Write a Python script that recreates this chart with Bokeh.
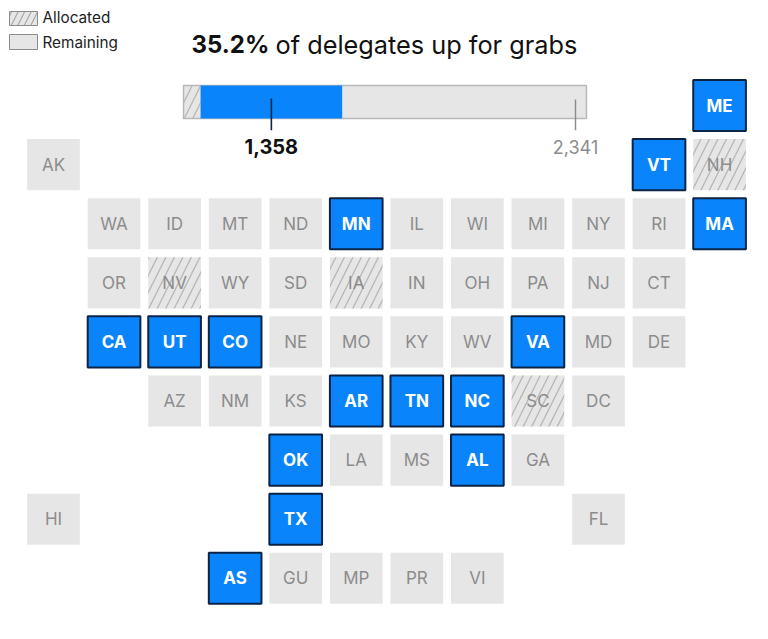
from bokeh.core.properties import value
from bokeh.embed import file_html
from bokeh.models import BoxAnnotation, ColumnDataSource, Label, Range1d
from bokeh.plotting import figure
from bokeh.resources import INLINE

FONT = "Inter"
BLUE = "#0a84fb"
NAVY = "#0b2345"
GREY = "#e6e6e6"
TEXT_GREY = "#8c8c8c"
HATCH = "#b8b8b8"

# tile map, one list per status: name, column, row
allocated_states = ["NH", "NV", "IA", "SC"]
allocated_cols = [11, 2, 5, 8]
allocated_rows = [1, 3, 3, 5]

voting_states = ["ME", "VT", "MN", "MA", "CA", "UT", "CO", "VA", "AR", "TN", "NC", "OK", "AL", "TX", "AS"]
voting_cols = [11, 10, 5, 11, 1, 2, 3, 8, 5, 6, 7, 4, 7, 4, 3]
voting_rows = [0, 1, 2, 2, 4, 4, 4, 4, 5, 5, 5, 6, 6, 7, 8]

remaining_states = ["AK", "WA", "ID", "MT", "ND", "IL", "WI", "MI", "NY", "RI",
                    "OR", "WY", "SD", "IN", "OH", "PA", "NJ", "CT",
                    "NE", "MO", "KY", "WV", "MD", "DE",
                    "AZ", "NM", "KS", "DC", "LA", "MS", "GA", "HI", "FL",
                    "GU", "MP", "PR", "VI"]
remaining_cols = [0, 1, 2, 3, 4, 6, 7, 8, 9, 10,
                  1, 3, 4, 6, 7, 8, 9, 10,
                  4, 5, 6, 7, 9, 10,
                  2, 3, 4, 9, 5, 6, 8, 0, 9,
                  4, 5, 6, 7]
remaining_rows = [1, 2, 2, 2, 2, 2, 2, 2, 2, 2,
                  3, 3, 3, 3, 3, 3, 3, 3,
                  4, 4, 4, 4, 4, 4,
                  5, 5, 5, 5, 6, 6, 6, 7, 7,
                  8, 8, 8, 8]

# delegates bar
bar_allocated = 163
bar_voting = 1358
bar_remaining = 2341
voting_label = "1,358"
remaining_label = "2,341"
voting_tick = 842
remaining_tick = 3757

W, H = 760, 631


def top(y):
    # y from the top of the picture to annotation y
    return H - y


p = figure(width=W, height=H, output_backend="svg", toolbar_location=None,
           x_range=Range1d(-0.875, 11.676), y_range=Range1d(8.9, -1.777),
           min_border=0, outline_line_color=None)
p.xaxis.visible = False
p.yaxis.visible = False
p.grid.visible = False
p.extra_x_ranges["delegates"] = Range1d(-1754, 5530)

tile_w, tile_h = 0.87, 0.865

remaining = ColumnDataSource(dict(x=remaining_cols, y=remaining_rows, t=remaining_states))
allocated = ColumnDataSource(dict(x=allocated_cols, y=allocated_rows, t=allocated_states))
voting = ColumnDataSource(dict(x=voting_cols, y=voting_rows, t=voting_states))

p.rect("x", "y", tile_w, tile_h, source=remaining, fill_color=GREY, line_color=None)
p.rect("x", "y", tile_w, tile_h, source=allocated, fill_color=GREY, line_color=None,
       hatch_pattern="right_diagonal_line", hatch_color=HATCH, hatch_scale=17, hatch_weight=1.4)
p.rect("x", "y", tile_w, tile_h, source=voting, fill_color=BLUE, line_color=NAVY, line_width=2)

for src, col, weight in [(remaining, TEXT_GREY, "normal"), (allocated, TEXT_GREY, "normal"), (voting, "white", "bold")]:
    p.text("x", "y", text="t", source=src, text_color=col, text_font=value(FONT), text_font_size="17px",
           text_font_style=weight, text_align="center", text_baseline="middle")

# bar
bar_y = -0.06
bar_h = 0.56
p.hbar(y=[bar_y], left=[0], right=[bar_allocated], height=bar_h, x_range_name="delegates",
       fill_color=GREY, line_color=None, hatch_pattern="right_diagonal_line", hatch_color=HATCH,
       hatch_scale=17, hatch_weight=1.4)
p.hbar(y=[bar_y], left=[bar_allocated + bar_voting], right=[bar_allocated + bar_voting + bar_remaining],
       height=bar_h, x_range_name="delegates", fill_color=GREY, line_color=None)
p.hbar(y=[bar_y], left=[0], right=[bar_allocated + bar_voting + bar_remaining], height=bar_h,
       x_range_name="delegates", fill_color=None, line_color="#b8b8b8", line_width=1.5)
p.hbar(y=[bar_y], left=[bar_allocated], right=[bar_allocated + bar_voting], height=bar_h,
       x_range_name="delegates", fill_color=BLUE, line_color=None)

p.segment(x0=[voting_tick], x1=[voting_tick], y0=[-0.12], y1=[0.42], x_range_name="delegates",
          line_color=NAVY, line_width=1.6)
p.segment(x0=[remaining_tick], x1=[remaining_tick], y0=[-0.1], y1=[0.42], x_range_name="delegates",
          line_color="#8a8a8a", line_width=1.4)

p.text(x=[voting_tick], y=[0.7], text=[voting_label], x_range_name="delegates", text_color="#111111",
       text_font=value(FONT), text_font_style="bold", text_font_size="20px", text_align="center",
       text_baseline="middle")
p.text(x=[remaining_tick], y=[0.7], text=[remaining_label], x_range_name="delegates", text_color=TEXT_GREY,
       text_font=value(FONT), text_font_size="18px", text_align="center", text_baseline="middle")

# title
p.add_layout(Label(x=191, y=top(44), x_units="screen", y_units="screen", text="35.2%", text_font=FONT,
                   text_font_size="24px", text_font_style="bold", text_color="#111111", text_baseline="middle"))
p.add_layout(Label(x=275, y=top(44), x_units="screen", y_units="screen", text="of delegates up for grabs",
                   text_font=FONT, text_font_size="25.3px", text_color="#111111", text_baseline="middle"))

# legend
p.add_layout(BoxAnnotation(left=9, right=37, top=top(11), bottom=top(25), left_units="screen", right_units="screen",
                           top_units="screen", bottom_units="screen", fill_color=GREY, fill_alpha=1,
                           line_color="#8c8c8c", line_width=1, line_alpha=1,
                           hatch_pattern="right_diagonal_line", hatch_color="#a8a8a8", hatch_scale=13,
                           hatch_weight=1.2))
p.add_layout(BoxAnnotation(left=9, right=37, top=top(34), bottom=top(49), left_units="screen", right_units="screen",
                           top_units="screen", bottom_units="screen", fill_color=GREY, fill_alpha=1,
                           line_color="#8c8c8c", line_width=1, line_alpha=1))
p.add_layout(Label(x=42, y=top(17), x_units="screen", y_units="screen", text="Allocated", text_font=FONT,
                   text_font_size="15.3px", text_color="#222222", text_baseline="middle"))
p.add_layout(Label(x=42, y=top(42), x_units="screen", y_units="screen", text="Remaining", text_font=FONT,
                   text_font_size="15.3px", text_color="#222222", text_baseline="middle"))

open("out.html", "w").write(file_html(p, INLINE))
